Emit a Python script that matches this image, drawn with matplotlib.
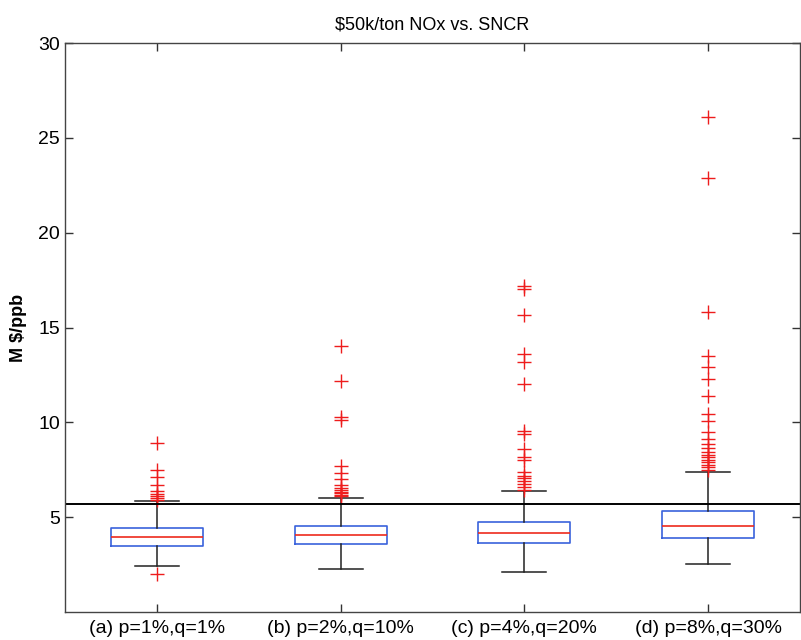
import matplotlib
matplotlib.use('Agg')
import matplotlib.pyplot as plt

# scenario labels
labels = ['(a) p=1%,q=1%', '(b) p=2%,q=10%', '(c) p=4%,q=20%', '(d) p=8%,q=30%']

# box summary (M $/ppb)
whis_lo = [2.45, 2.27, 2.13, 2.53]
q1 = [3.47, 3.59, 3.64, 3.91]
median = [3.98, 4.06, 4.15, 4.56]
q3 = [4.42, 4.52, 4.73, 5.31]
whis_hi = [5.83, 6.00, 6.36, 7.40]

# outliers
fliers_a = [2.0, 5.93, 6.03, 6.12, 6.22, 6.38, 6.72, 7.12, 7.5, 8.92]
fliers_b = [6.1, 6.18, 6.26, 6.34, 6.42, 6.55, 6.72, 7.0, 7.33, 7.72,
            10.1, 10.3, 12.2, 14.0]
fliers_c = [6.45, 6.6, 6.75, 6.9, 7.05, 7.18, 7.36, 8.0, 8.18, 8.6,
            9.38, 9.55, 12.0, 13.2, 13.6, 15.65, 17.05, 17.2]
fliers_d = [7.5, 7.63, 7.76, 7.89, 8.02, 8.15, 8.28, 8.42, 8.63, 8.86,
            9.12, 9.51, 10.09, 10.44, 11.4, 12.28, 12.9, 13.5, 15.8, 22.9, 26.1]
fliers = [fliers_a, fliers_b, fliers_c, fliers_d]

# SNCR reference level
sncr_level = 5.7

plt.rcParams['font.family'] = ['Liberation Sans', 'DejaVu Sans']
plt.rcParams['font.size'] = 13

fig = plt.figure(figsize=(8.01, 6.40), dpi=100)
ax = fig.add_axes([65 / 801, 28 / 640, 735 / 801, 569 / 640])

stats = []
for i in range(len(labels)):
    stats.append({'label': labels[i], 'whislo': whis_lo[i], 'q1': q1[i],
                  'med': median[i], 'q3': q3[i], 'whishi': whis_hi[i],
                  'fliers': fliers[i]})

ax.bxp(stats, positions=[1, 2, 3, 4], widths=0.5, showfliers=True,
       boxprops=dict(color='#3a62dc', linewidth=1.2),
       medianprops=dict(color='#ee2a1c', linewidth=1.2),
       whiskerprops=dict(color='#222222', linewidth=1.1),
       capprops=dict(color='#222222', linewidth=1.1),
       capwidths=0.24,
       flierprops=dict(marker='+', markeredgecolor='#ee1c1c', markersize=10,
                       markeredgewidth=1.0, linestyle='none'))

ax.plot([0.5, 4.5], [sncr_level, sncr_level], color='black', linewidth=1.4)

ax.set_xlim(0.5, 4.5)
ax.set_ylim(0, 30)
ax.set_yticks([5, 10, 15, 20, 25, 30])
ax.set_xticks([1, 2, 3, 4])
ax.set_xticklabels(labels)
ax.tick_params(direction='in', length=6, width=1, top=True, right=True,
               colors='#333333', labelcolor='black', labelsize=14)
ax.tick_params(axis='x', pad=6)
for s in ax.spines.values():
    s.set_color('#444444')
    s.set_linewidth(1.0)

ax.set_ylabel('M $/ppb', fontsize=13, fontweight='bold', labelpad=8)
ax.set_title('$50k/ton NOx vs. SNCR', fontsize=13, pad=10)

fig.savefig('out.png', dpi=100)
